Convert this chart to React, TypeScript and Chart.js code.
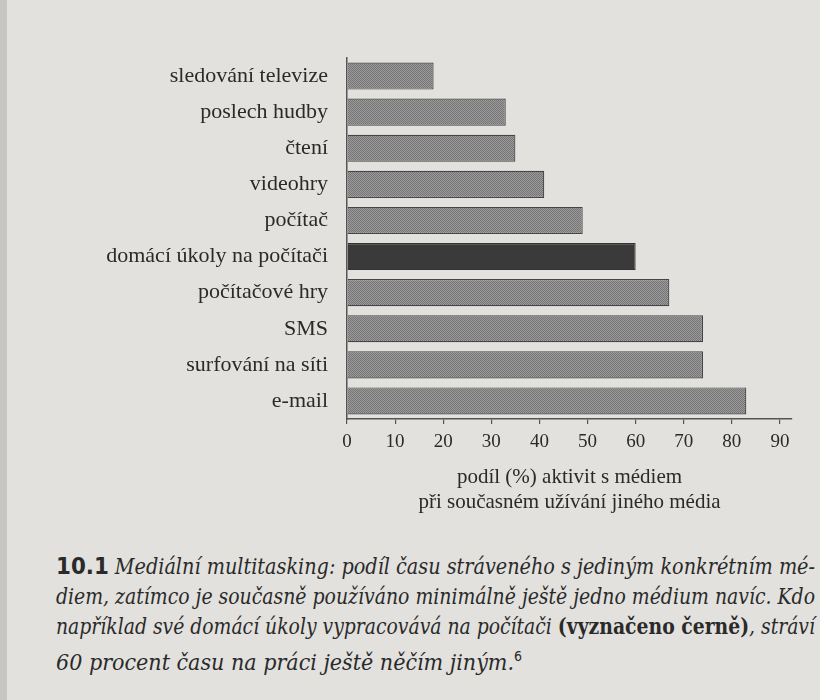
import React, { useEffect, useLayoutEffect, useRef } from "react";
import { Chart, registerables } from "chart.js";

Chart.register(...registerables);

const categories = [
  "sledování televize",
  "poslech hudby",
  "čtení",
  "videohry",
  "počítač",
  "domácí úkoly na počítači",
  "počítačové hry",
  "SMS",
  "surfování na síti",
  "e-mail",
];
const shareValues = [18, 33, 35, 41, 49, 60, 67, 74, 74, 83];
const highlightedCategory = "domácí úkoly na počítači";
const xTickValues = [0, 10, 20, 30, 40, 50, 60, 70, 80, 90];
const axisTitleLines = ["podíl (%) aktivit s médiem", "při současném užívání jiného média"];

const INK = "#2a2a2a";
const PAGE = "#e2e1dd";
const CAPTION_WIDTH = 759;

function makeScreentone(): CanvasPattern | string {
  const c = document.createElement("canvas");
  c.width = 2;
  c.height = 2;
  const g = c.getContext("2d");
  if (!g) return "#8c8c8c";
  g.fillStyle = "#9c9c9c";
  g.fillRect(0, 0, 2, 2);
  g.fillStyle = "#747474";
  g.fillRect(0, 0, 1, 1);
  g.fillRect(1, 1, 1, 1);
  const p = g.createPattern(c, "repeat");
  return p || "#8c8c8c";
}

function BarChart() {
  const ref = useRef<HTMLCanvasElement | null>(null);
  useEffect(() => {
    if (!ref.current) return;
    const tone = makeScreentone();
    const fills = categories.map((c) => (c === highlightedCategory ? "#3a3a3a" : tone));
    const borders = categories.map((c) => (c === highlightedCategory ? "#333333" : "#454545"));
    const chart = new Chart(ref.current, {
      type: "bar",
      data: {
        labels: categories,
        datasets: [
          {
            data: shareValues,
            backgroundColor: fills as any,
            borderColor: borders,
            borderWidth: 1.2,
            barPercentage: 0.75,
            categoryPercentage: 1,
          },
        ],
      },
      options: {
        indexAxis: "y",
        animation: false,
        responsive: false,
        maintainAspectRatio: false,
        layout: { padding: { top: 58, right: 28, left: 0, bottom: 0 } },
        plugins: { legend: { display: false }, tooltip: { enabled: false }, title: { display: false } },
        scales: {
          x: {
            type: "linear",
            min: 0,
            max: 92.5,
            afterBuildTicks: (s: any) => {
              s.ticks = xTickValues.map((v) => ({ value: v }));
            },
            afterFit: (s: any) => {
              s.height = 101;
            },
            grid: { drawOnChartArea: false, drawTicks: true, tickLength: 5, color: "#555", lineWidth: 1.2 },
            border: { display: true, color: "#555", width: 1.5 },
            ticks: {
              color: INK,
              padding: 7,
              maxRotation: 0,
              autoSkip: false,
              font: { family: "'Liberation Serif', serif", size: 19 },
            },
            title: {
              display: true,
              text: axisTitleLines,
              color: INK,
              padding: { top: 10, bottom: 5 },
              font: { family: "'Liberation Serif', serif", size: 21, lineHeight: 1.2 },
            },
          },
          y: {
            type: "category",
            afterFit: (s: any) => {
              s.width = 347;
            },
            grid: { display: false, drawTicks: false },
            border: { display: true, color: "#555", width: 1.5 },
            ticks: {
              color: INK,
              padding: 19,
              autoSkip: false,
              font: { family: "'Liberation Serif', serif", size: 22 },
            },
          },
        },
      },
    });
    return () => chart.destroy();
  }, []);
  return <canvas ref={ref} width={820} height={520} style={{ display: "block", width: 820, height: 520 }} />;
}

function CaptionLine({ children, justify }: { children: React.ReactNode; justify: boolean }) {
  const ref = useRef<HTMLSpanElement | null>(null);
  useLayoutEffect(() => {
    const el = ref.current;
    if (!el) return;
    el.style.wordSpacing = "0px";
    el.style.transform = "none";
    const w = el.getBoundingClientRect().width;
    if (w > CAPTION_WIDTH) {
      el.style.transform = `scaleX(${CAPTION_WIDTH / w})`;
    } else if (justify) {
      const spaces = (el.textContent || "").split(" ").length - 1;
      if (spaces > 0) el.style.wordSpacing = `${(CAPTION_WIDTH - w) / spaces}px`;
    }
  }, [justify]);
  return (
    <div style={{ height: 30, lineHeight: "30px", whiteSpace: "nowrap" }}>
      <span ref={ref} style={{ display: "inline-block", transformOrigin: "left center", whiteSpace: "nowrap" }}>
        {children}
      </span>
    </div>
  );
}

export default function App() {
  return (
    <div
      style={{
        position: "absolute",
        left: 0,
        top: 0,
        width: 820,
        height: 700,
        background: PAGE,
        overflow: "hidden",
        color: INK,
      }}
    >
      <div style={{ position: "absolute", left: 0, top: 0, width: 7, height: 700, background: "#c6c6c3" }} />
      <BarChart />
      <div
        style={{
          position: "absolute",
          left: 56,
          top: 551,
          width: CAPTION_WIDTH,
          fontFamily: "'DejaVu Serif Condensed', 'DejaVu Serif', serif",
          fontStretch: "condensed",
          fontStyle: "italic",
          fontSize: 23,
          color: "#2a2a2a",
        }}
      >
        <CaptionLine justify>
          <span style={{ fontStyle: "normal", fontWeight: 700, fontFamily: "'DejaVu Sans', sans-serif", fontStretch: "normal" }}>
            10.1
          </span>{" "}
          Mediální multitasking: podíl času stráveného s jediným konkrétním mé-
        </CaptionLine>
        <CaptionLine justify>diem, zatímco je současně používáno minimálně ještě jedno médium navíc. Kdo</CaptionLine>
        <CaptionLine justify>
          například své domácí úkoly vypracovává na počítači{" "}
          <span style={{ fontStyle: "normal", fontWeight: 700 }}>(vyznačeno černě)</span>, stráví
        </CaptionLine>
        <CaptionLine justify={false}>
          60 procent času na práci ještě něčím jiným.
          <sup style={{ fontStyle: "normal", fontSize: 14, fontFamily: "'DejaVu Sans', sans-serif" }}>6</sup>
        </CaptionLine>
      </div>
    </div>
  );
}
